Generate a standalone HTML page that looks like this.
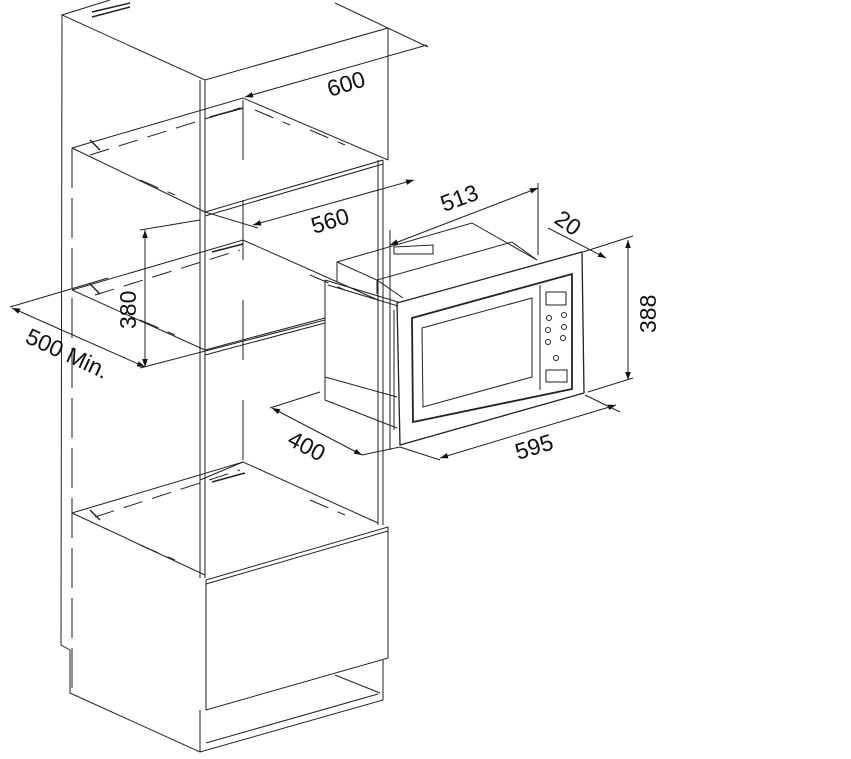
<!DOCTYPE html>
<html><head><meta charset="utf-8"><style>
html,body{margin:0;padding:0;background:#fff;width:851px;height:759px;overflow:hidden}
text{font-family:"Liberation Sans",sans-serif;font-size:23px;fill:#111}
</style></head><body>
<svg width="851" height="759" viewBox="0 0 851 759" xmlns="http://www.w3.org/2000/svg">
<defs><marker id="a" viewBox="0 0 10 10" refX="10" refY="5" markerWidth="15" markerHeight="8" orient="auto-start-reverse"><path d="M0,1.5 L10,5 L0,8.5z" fill="#111"/></marker></defs>
<g stroke="#222" stroke-width="1" fill="none">
<!-- cabinet outer -->
<polyline points="110,0 62,15 205,80 388,28"/>
<line x1="335" y1="3" x2="428" y2="47"/>
<polyline points="62,15 61,645 70,650 70,693 200,752 383,700 383,660"/>
<line x1="200" y1="80" x2="200" y2="578"/><line x1="205" y1="80" x2="205" y2="578"/>
<line x1="388" y1="28" x2="388" y2="160"/>
<line x1="378" y1="160" x2="378" y2="525"/><line x1="383" y1="160" x2="383" y2="525"/>
<line x1="72" y1="148" x2="72" y2="690" stroke-dasharray="40,10"/>
<line x1="243" y1="100" x2="243" y2="470" stroke-dasharray="60,40"/>
<!-- shelves -->
<polyline points="72,148 243,98 388,160"/>
<line x1="72" y1="148" x2="205" y2="212"/>
<polyline points="205,212 383,160"/><polyline points="205,216 383,164"/>
<polyline points="72,290 243,240 378,300"/>
<polyline points="140,368 325,320"/><polyline points="205,350 325,318"/><polyline points="205,355 325,323"/>
<line x1="72" y1="290" x2="205" y2="350"/>
<polyline points="72,513 243,462 378,523"/>
<line x1="72" y1="513" x2="205" y2="575"/>
<line x1="200" y1="480" x2="243" y2="462"/>
<!-- dashed hints -->
<g stroke-dasharray="20,10">
<line x1="90" y1="155" x2="240" y2="108"/><line x1="95" y1="295" x2="240" y2="250"/><line x1="95" y1="517" x2="240" y2="470"/>
<line x1="140" y1="180" x2="175" y2="195"/><line x1="140" y1="320" x2="175" y2="335"/><line x1="140" y1="545" x2="175" y2="560"/>
<line x1="255" y1="110" x2="290" y2="125"/><line x1="310" y1="130" x2="345" y2="145"/><line x1="310" y1="275" x2="345" y2="290"/><line x1="310" y1="500" x2="345" y2="515"/>
</g>
<g stroke-width="1.5">
<line x1="210" y1="117" x2="243" y2="108"/><line x1="212" y1="252" x2="243" y2="244"/><line x1="212" y1="482" x2="245" y2="473"/>
<line x1="90" y1="140" x2="100" y2="150"/><line x1="90" y1="284" x2="100" y2="294"/><line x1="90" y1="510" x2="100" y2="520"/>
<line x1="92" y1="12" x2="130" y2="3"/><line x1="92" y1="17" x2="130" y2="7"/>
</g>
<!-- lower drawer -->
<polyline points="206,580 388,527 388,658 206,710 206,580"/>
<polyline points="206,584 388,531"/>
<polyline points="200,710 200,752"/><polyline points="206,743 378,694"/><polyline points="335,675 380,693"/>
<!-- microwave -->
<polyline points="325,280 398,302"/><polyline points="325,280 325,400 397,428"/>
<polyline points="325,377 397,397"/><polyline points="328,285 398,306"/>
<polyline points="337,282 337,262 472,223 537,260"/>
<polyline points="337,262 377,280 403,298"/><polyline points="377,280 512,242 537,260"/>
<polyline points="377,280 377,294"/>
<polygon points="394,247 433,245 433,254 394,254"/>
<line x1="394" y1="310" x2="394" y2="430"/>
<polygon points="397,303 582,252 584,393 400,445" stroke-width="1.3"/>
<polygon points="412,318 572,274 572,389 413,422" stroke-width="1.8"/>
<polygon points="422,328 532,298 532,377 423,407"/>
<line x1="540" y1="285" x2="540" y2="390"/>
<rect x="546" y="292" width="20" height="13"/>
<rect x="546" y="370" width="21" height="12"/>
<g><circle cx="549" cy="318" r="2.5"/><circle cx="564" cy="315" r="2.5"/><circle cx="548" cy="330" r="2.5"/><circle cx="564" cy="327" r="2.5"/><circle cx="548" cy="342" r="2.5"/><circle cx="563" cy="338" r="2.5"/><circle cx="556" cy="358" r="2.5"/></g>
<!-- dimensions -->
<line x1="245" y1="97" x2="427" y2="45" marker-start="url(#a)"/>
<line x1="253" y1="225" x2="414" y2="180" marker-start="url(#a)" marker-end="url(#a)"/>
<line x1="205" y1="212" x2="258" y2="228"/>
<line x1="390" y1="245" x2="538" y2="188" marker-start="url(#a)" marker-end="url(#a)"/>
<line x1="390" y1="230" x2="390" y2="450"/><line x1="538" y1="183" x2="538" y2="255"/>
<line x1="548" y1="228" x2="606" y2="258" marker-end="url(#a)"/>
<line x1="583" y1="252" x2="633" y2="236"/><line x1="588" y1="392" x2="633" y2="378"/>
<line x1="628" y1="240" x2="628" y2="380" marker-start="url(#a)" marker-end="url(#a)"/>
<line x1="440" y1="458" x2="616" y2="405" marker-start="url(#a)" marker-end="url(#a)"/>
<line x1="400" y1="447" x2="440" y2="460"/><line x1="585" y1="395" x2="620" y2="412"/>
<line x1="272" y1="408" x2="362" y2="455" marker-start="url(#a)" marker-end="url(#a)"/>
<line x1="270" y1="408" x2="320" y2="392"/><line x1="362" y1="455" x2="400" y2="447"/>
<line x1="145" y1="230" x2="145" y2="367" marker-start="url(#a)" marker-end="url(#a)"/>
<line x1="140" y1="230" x2="200" y2="220"/>
<line x1="12" y1="308" x2="145" y2="367" marker-start="url(#a)" marker-end="url(#a)"/>
<line x1="10" y1="307" x2="108" y2="278"/>
</g>
<text transform="translate(330,97) rotate(-17)">600</text>
<text transform="translate(314,234) rotate(-17)">560</text>
<text transform="translate(444,212) rotate(-20)">513</text>
<text transform="translate(553,222) rotate(35)">20</text>
<text transform="translate(656,333) rotate(-90)">388</text>
<text transform="translate(518,460) rotate(-17)">595</text>
<text transform="translate(286,444) rotate(28)">400</text>
<text transform="translate(136,329) rotate(-90)">380</text>
<text transform="translate(24,342) rotate(25)">500 Min.</text>
</svg>
</body></html>
